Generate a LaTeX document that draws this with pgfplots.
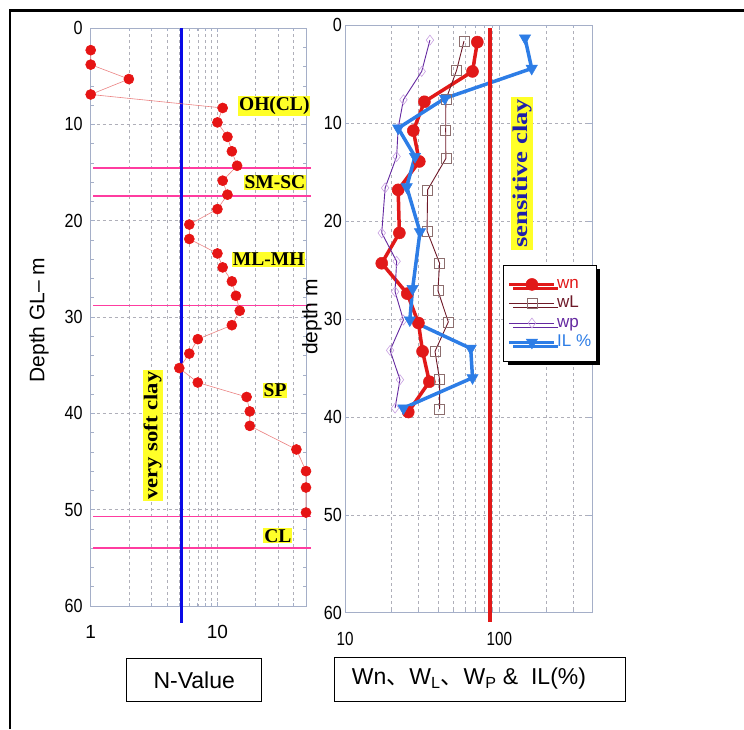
\documentclass[border=0pt]{standalone}
\usepackage{pgfplots}
\pgfplotsset{compat=1.18}
\usepackage{fontspec}
\setmainfont{Liberation Sans}
\newfontfamily\serifb{Liberation Serif}
\newfontfamily\cjk{Noto Sans CJK JP}
\usetikzlibrary{shadows}
\definecolor{nred}{RGB}{230,20,20}
\definecolor{nline}{RGB}{235,130,130}
\definecolor{pinkline}{RGB}{255,60,160}
\definecolor{nblue}{RGB}{10,10,230}
\definecolor{wnred}{RGB}{225,25,25}
\definecolor{wlcol}{RGB}{110,25,40}
\definecolor{wlmark}{RGB}{140,110,110}
\definecolor{wpcol}{RGB}{100,40,160}
\definecolor{wpmark}{RGB}{200,160,225}
\definecolor{ilblue}{RGB}{45,125,230}
\definecolor{gridc}{RGB}{175,175,185}
\definecolor{framec}{RGB}{165,175,200}
\definecolor{hl}{RGB}{255,255,40}
\definecolor{navy}{RGB}{30,30,170}
\begin{document}
\begin{tikzpicture}
\path[use as bounding box] (0pt,0pt) rectangle (744pt,729pt);
\draw[line width=2.5pt] (9.8pt,0pt) -- (9.8pt,718.3pt) -- (744pt,718.3pt);
% ---------------- left axis: N-value
\begin{axis}[
  xmode=log, log ticks with fixed point,
  scale only axis, clip=false,
  y dir=reverse, ymin=0, ymax=60, ytick={0,10,20,30,40,50,60},
  xmajorgrids, xminorgrids, ymajorgrids,
  major grid style={gridc, dashed, line width=0.5pt},
  minor grid style={gridc, dashed, line width=0.5pt},
  axis line style={framec, line width=0.8pt},
  tick style={framec, line width=0.6pt},
  tick align=inside,
  /pgf/number format/assume math mode=true,
  tick label style={font=\fontsize{19}{19}\selectfont},
  at={(198.35pt,412pt)}, anchor=center,
  width=215.3pt, height=578pt,
  xmin=1, xmax=50, xtick={1,10},
  minor xtick={2,3,4,5,6,7,8,9,20,30,40,50},
  minor y tick num=4,
  yticklabel style={inner sep=0pt, xshift=-8pt, xscale=0.85},
  xticklabel style={inner sep=0pt, yshift=-19pt},
  unbounded coords=jump,
]
\addplot[color=pinkline, line width=1.8pt, mark=none] coordinates {
(1.05,14.5) (55,14.5) (nan,nan)
(1.05,17.4) (55,17.4) (nan,nan)
(1.05,28.8) (55,28.8) (nan,nan)
(1.05,50.7) (55,50.7) (nan,nan)
(1.05,54.0) (55,54.0)};
\addplot[nblue, line width=3.5pt] coordinates {(5.2,0) (5.2,61.8)};
\addplot[nline, line width=0.6pt, mark=*, mark size=5pt, mark options={fill=nred, draw=nred}] coordinates {
(1,2.3) (1,3.8) (2,5.3) (1,6.9) (11,8.3) (10,9.8) (12,11.3) (13,12.8) (14.3,14.3)
(11,15.85) (12,17.3) (10,18.8) (6,20.4) (6,21.9) (10,23.4) (11,24.85) (13,26.3)
(14,27.8) (15,29.35) (13,30.85) (7,32.3) (6,33.8) (5,35.3) (7,36.8) (17,38.3)
(18,39.8) (18,41.3) (42,43.75) (50,46.0) (50,47.7) (50,50.3)};
\node[fill=hl, inner sep=1pt, font=\serifb\bfseries\fontsize{19.5}{19.5}\selectfont] at (axis cs:28.1,8.1) {OH(CL)};
\node[fill=hl, inner sep=1pt, font=\serifb\bfseries\fontsize{19.5}{19.5}\selectfont] at (axis cs:28.4,16.0) {SM-SC};
\node[fill=hl, inner sep=1pt, font=\serifb\bfseries\fontsize{19.5}{19.5}\selectfont] at (axis cs:25.4,24.0) {ML-MH};
\node[fill=hl, inner sep=1pt, font=\serifb\bfseries\fontsize{19.5}{19.5}\selectfont] at (axis cs:28.5,37.6) {SP};
\node[fill=hl, inner sep=1pt, font=\serifb\bfseries\fontsize{19.5}{19.5}\selectfont] at (axis cs:30,52.7) {CL};
\node[fill=hl, inner sep=1pt, rotate=90, xscale=1.16, font=\serifb\bfseries\fontsize{19.5}{19.5}\selectfont] at (axis cs:3.08,42.3) {very soft clay};
\end{axis}
% ---------------- right axis
\begin{axis}[
  xmode=log, log ticks with fixed point,
  scale only axis, clip=false,
  y dir=reverse, ymin=0, ymax=60, ytick={0,10,20,30,40,50,60},
  xmajorgrids, xminorgrids, ymajorgrids,
  major grid style={gridc, dashed, line width=0.5pt},
  minor grid style={gridc, dashed, line width=0.5pt},
  axis line style={framec, line width=0.8pt},
  tick style={framec, line width=0.6pt},
  tick align=inside,
  /pgf/number format/assume math mode=true,
  tick label style={font=\fontsize{19}{19}\selectfont},
  at={(468.65pt,409.95pt)}, anchor=center,
  width=247.3pt, height=587.3pt,
  xmin=10, xmax=400, xtick={10,100},
  minor xtick={20,30,40,50,60,70,80,90,200,300,400},
  yticklabel style={inner sep=0pt, xshift=-3pt, xscale=0.85},
  xticklabel style={inner sep=0pt, yshift=-19pt, xscale=0.8},
  legend style={at={(0.64,0.592)}, anchor=north west, draw=black, line width=0.8pt,
    fill=white, font=\fontsize{17}{18}\selectfont, row sep=1.3pt,
    inner xsep=4pt, inner ysep=10pt,
    nodes={inner sep=1pt, text height=12pt, text depth=4pt},
    drop shadow={shadow xshift=4pt, shadow yshift=-4pt, fill=black, opacity=1}},
  legend cell align=left,
  legend image code/.code={\draw[mark repeat=2,mark phase=2,#1] plot coordinates {(0pt,0pt) (22.5pt,0pt) (45pt,0pt)};},
]
\addplot[wnred, line width=3.5pt, mark=*, mark size=6pt, mark options={fill=wnred, draw=wnred, line width=0.5pt}] coordinates {
(72,1.7) (67,4.7) (32.7,7.8) (27.7,10.75) (30.3,13.9) (22.1,16.8) (22.5,21.2)
(17.3,24.3) (25.3,27.4) (29.9,30.4) (31.8,33.3) (35.2,36.4) (25.7,39.5)};
\addlegendentry{\textcolor{wnred}{wn}}
\addplot[wlcol, line width=0.9pt, mark=square, mark size=5pt, mark options={draw=wlmark, line width=0.6pt, fill=none}] coordinates {
(59,1.6) (52.8,4.6) (45,7.6) (44.9,10.7) (45,13.6) (34.3,16.8) (34,21.0)
(41,24.3) (40,27.1) (46.7,30.3) (38.3,33.3) (41,36.2) (41,39.2)};
\addlegendentry{\textcolor{wlcol}{wL}}
\addplot[wpcol, line width=0.9pt, mark=diamond, mark size=5pt, mark options={draw=wpmark, line width=0.6pt, fill=none}] coordinates {
(35.5,1.5) (31.4,4.7) (23.9,7.6) (22.1,10.5) (21.6,13.4) (18.2,16.6) (17.3,21.2)
(21.6,24.1) (21.1,27.2) (23.9,30.1) (19.6,33.2) (22.7,36.2) (21.1,39.1)};
\addlegendentry{\textcolor{wpcol}{wp}}
\addplot[ilblue, line width=3.5pt, mark=triangle*, mark size=6.5pt, mark options={rotate=180, fill=ilblue, draw=ilblue, line width=0.5pt}] coordinates {
(146.6,1.3) (162,4.4) (44.4,7.45) (22.1,10.5) (28.4,13.4) (25.1,16.5) (30.6,21.1)
(27.4,26.9) (26.3,30.1) (65.2,33.0) (67,36.0) (23.9,39.1)};
\addlegendentry{\textcolor{ilblue}{IL \%}}
\addplot[wnred, line width=3.5pt, forget plot] coordinates {(87,0.3) (87,61)};
\node[fill=hl, inner sep=1.5pt, rotate=90, xscale=1.27, text=navy, font=\serifb\bfseries\fontsize{21}{21}\selectfont] at (axis cs:140.6,15.1) {sensitive clay};
\end{axis}
% axis titles
\node[rotate=90, font=\fontsize{21}{21}\selectfont] at (39pt,409pt) {Depth GL– m};
\node[rotate=90, font=\fontsize{21}{21}\selectfont] at (312pt,412pt) {depth m};
% bottom label boxes
\draw[line width=1pt] (126.7pt,27.3pt) rectangle (261.7pt,70.7pt);
\node[font=\fontsize{23}{23}\selectfont] at (194.2pt,49pt) {N-Value};
\draw[line width=1pt] (334.3pt,27.3pt) rectangle (625pt,71.3pt);
\node[font=\fontsize{23}{23}\selectfont] at (469pt,50pt) {Wn{\cjk 、}W\textsubscript{L}{\cjk 、}W\textsubscript{P} \&\ \ IL(\%)};
\end{tikzpicture}
\end{document}
